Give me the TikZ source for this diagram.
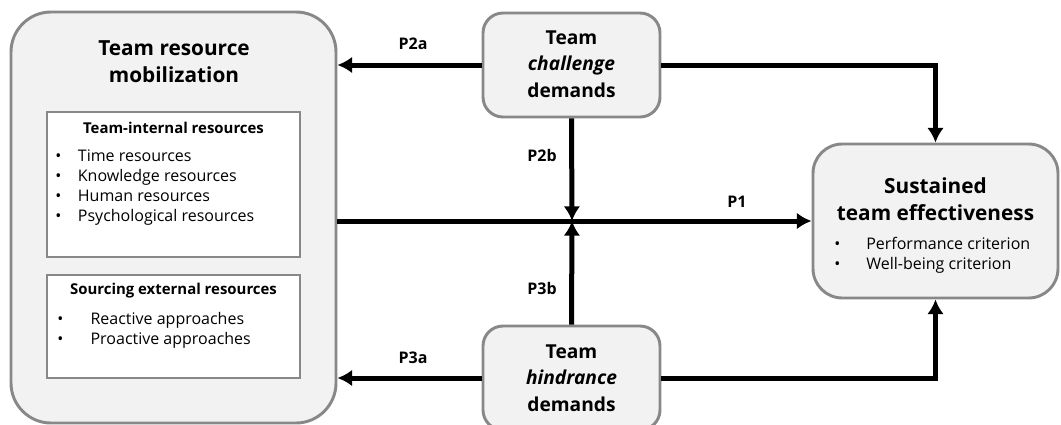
\documentclass[tikz,border=0pt]{standalone}
\usepackage{fontspec}
\setmainfont{Open Sans}
\usetikzlibrary{arrows.meta}
\definecolor{boxfill}{HTML}{F2F2F2}
\definecolor{boxline}{HTML}{888888}
\newcommand{\bul}[2]{\makebox[#1][l]{\textbullet}#2}
\begin{document}
\begin{tikzpicture}[x=0.75pt,y=-0.75pt,>={Latex[length=11pt,width=12.5pt]},line join=miter,
  outerbox/.style={draw=boxline,fill=boxfill,line width=2.2pt},
  innerbox/.style={draw=boxline,fill=white,line width=2pt},
  titletext/.style={align=center,inner sep=0pt,font=\fontsize{15.6}{20}\selectfont\bfseries},
  subtext/.style={inner sep=0pt,font=\fontsize{11.2}{14}\selectfont\bfseries},
  listtext/.style={align=left,inner sep=0pt,anchor=north west,font=\fontsize{12}{15.2}\selectfont},
  plabel/.style={inner sep=0pt,font=\fontsize{12}{14}\selectfont\bfseries},
  link/.style={line width=3.75pt,->},
]
\useasboundingbox (0,0) rectangle (1061,425);

 \node (mob) at (173.5,217.5) [outerbox,rounded corners=30pt,minimum width=243.75pt,minimum height=308.25pt] {};
 \node (mobtitle) at (174,61.5) [titletext] {Team resource\\mobilization};

 \node (internal) at (173.5,184.5) [innerbox,minimum width=189.75pt,minimum height=108.75pt] {};
 \node (inttitle) at (173.5,128) [subtext] {Team-internal resources};
 \node (intlist) at (55,149) [listtext] {\bul{17pt}{Time resources}\\\bul{17pt}{Knowledge resources}\\\bul{17pt}{Human resources}\\\bul{17pt}{Psychological resources}};

 \node (external) at (173.5,326.5) [innerbox,minimum width=189.75pt,minimum height=77.25pt] {};
 \node (exttitle) at (173.5,291) [subtext] {Sourcing external resources};
 \node (extlist) at (57,312) [listtext] {\bul{25pt}{Reactive approaches}\\\bul{25pt}{Proactive approaches}};

 \node (chal) at (571.5,65) [outerbox,rounded corners=15pt,minimum width=132.75pt,minimum height=78pt] {};
 \node (chaltext) at (571.5,64) [titletext,font=\fontsize{14.4}{20}\selectfont\bfseries] {Team\\\textit{challenge}\\demands};

 \node (hind) at (571.5,378) [outerbox,rounded corners=15pt,minimum width=132.75pt,minimum height=78pt] {};
 \node (hindtext) at (571.5,378) [titletext,font=\fontsize{14.4}{20}\selectfont\bfseries] {Team\\\textit{hindrance}\\demands};

 \node (eff) at (935.5,221) [outerbox,rounded corners=22pt,minimum width=183.75pt,minimum height=115.5pt] {};
 \node (efftitle) at (935.5,199) [titletext] {Sustained\\team effectiveness};
 \node (efflist) at (834,237) [listtext] {\bul{24pt}{Performance criterion}\\\bul{24pt}{Well-being criterion}};

 \coordinate (mod) at (572,221);

  \draw [link] (mob.east |- mod) -- (eff.west |- mod);
  \draw [link] (chal.west) -- (chal.west -| mob.east);
  \draw [link] (hind.west) -- (hind.west -| mob.east);
  \draw [link] (chal.south) -- (mod);
  \draw [link] (hind.north) -- (mod);
  \draw [link] (chal.east) -| (eff.north);
  \draw [link] (hind.east) -| (eff.south);

 \node (p2a) at (413,44) [plabel] {P2a};
 \node (p3a) at (413,358) [plabel] {P3a};
 \node (p2b) at (542,155) [plabel] {P2b};
 \node (p3b) at (542,288) [plabel] {P3b};
 \node (p1) at (737,202) [plabel] {P1};

\end{tikzpicture}
\end{document}
